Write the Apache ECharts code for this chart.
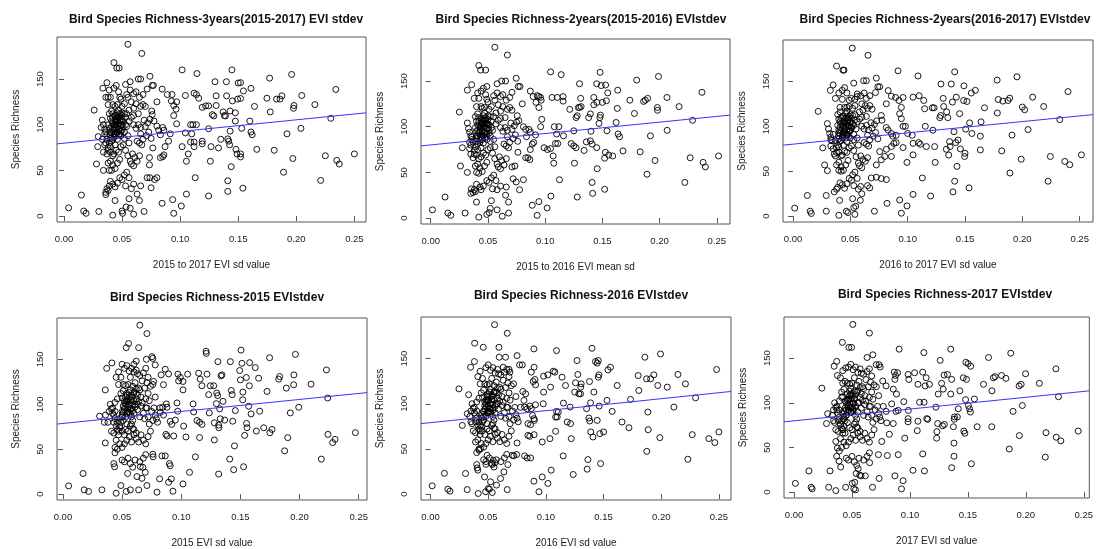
<!DOCTYPE html>
<html><head><meta charset="utf-8">
<script src="https://cdn.jsdelivr.net/npm/echarts@6/dist/echarts.min.js"></script>
<style>html,body{margin:0;padding:0;background:#fff}#c{width:1096px;height:549px}</style>
</head><body><div id="c"></div>
<script>
// ---- text ----
const titles = [
  "Bird Species Richness-3years(2015-2017) EVI stdev",
  "Bird Species Richness-2years(2015-2016) EVIstdev",
  "Bird Species Richness-2years(2016-2017) EVIstdev",
  "Bird Species Richness-2015 EVIstdev",
  "Bird Species Richness-2016 EVIstdev",
  "Bird Species Richness-2017 EVIstdev"
];
const xNames = [
  "2015 to 2017 EVI sd value",
  "2015 to 2016 EVI mean sd",
  "2016 to 2017 EVI sd value",
  "2015 EVI sd value",
  "2016 EVI sd value",
  "2017 EVI sd value"
];
const yName = "Species Richness";
const xTicks = [0, 0.05, 0.10, 0.15, 0.20, 0.25];
const yTicks = [0, 50, 100, 150];
const xRanges = [[-0.006,0.260],[-0.0085,0.2615],[-0.0087,0.2616],[-0.0050,0.2570],[-0.0083,0.2605],[-0.0087,0.2548]];
const yRange = [-6.5, 196];
// fitted regression lines (endpoints)
const fitLines = [
  [[-0.006,79],[0.260,113]],
  [[-0.0085,79],[0.2615,112.7]],
  [[-0.0087,79],[0.2616,113]],
  [[-0.0050,78],[0.2570,113]],
  [[-0.0083,78],[0.2605,113.6]],
  [[-0.0087,78.7],[0.2548,113.4]]
];

// ---- panel 1 ----
const p1Sparse = [[0.004,9],[0.015,23],[0.017,5.5],[0.019,3],[0.030,5],[0.026,116],[0.028,57],[0.029,76],[0.0295,87],[0.032,97],[0.0335,140],[0.037,146],[0.034,50],[0.036,23.5],[0.037,30],[0.038,130],[0.042,1],[0.043,168],[0.044,17],[0.0455,162],[0.0475,162],[0.050,5.5],[0.0505,3],[0.0535,10],[0.055,188],[0.056,19],[0.057,8.5],[0.060,2],[0.063,24],[0.065,17],[0.067,178],[0.069,5],[0.064,150],[0.066,150],[0.057,147],[0.053,144],
[0.074,153],[0.076,143],[0.077,143],[0.0716,139],[0.080,125],[0.0845,139],[0.089,133],[0.093,133],[0.0925,126],[0.0945,121],[0.097,125],[0.0965,117],[0.0945,110],[0.097,101],[0.076,111],[0.0755,115],[0.0775,104],[0.080,98.5],[0.0815,94],[0.085,97],[0.086,94],[0.083,89],[0.0915,90],[0.090,82],[0.087,76],[0.085,65],[0.086,67],[0.083,64],[0.0765,74.6],[0.0736,64],[0.0736,56],[0.0716,42],[0.074,42],[0.078,40],[0.080,42],[0.075,31],[0.0845,14],[0.0936,18],[0.0945,3],[0.101,11],[0.1017,160],[0.1054,24],[0.1054,60],[0.107,68],[0.1045,91],[0.1017,76],[0.1045,132],[0.109,100],[0.111,100],[0.110,90],[0.109,81],[0.112,81],[0.112,76],[0.113,42],[0.112,134.5],[0.114,133],[0.116,129],[0.1145,156],[0.114,100],[0.119,119],[0.122,120.6],[0.1245,120.6],[0.119,79],[0.119,82],[0.1245,22],[0.126,60],[0.1266,76],[0.1245,95.6],[0.1277,111],[0.129,109.6],[0.130,147],[0.131,131.6],[0.131,121],[0.133,74.6],[0.135,84],[0.137,114],[0.138,110],[0.139,109.6],[0.1398,147],[0.140,131.6],[0.141,84.5],[0.1418,82],[0.141,38.6],[0.141,27],[0.1426,78],[0.143,93],[0.143,115],[0.1446,160],[0.145,126],[0.144,54],[0.1475,113],[0.1475,104],[0.148,73],[0.149,68],[0.1495,128],[0.150,145.6],[0.152,128.7],[0.152,146],[0.152,68],[0.152,64.7],[0.153,96],[0.1545,137],[0.154,30.5],[0.161,139.7],[0.160,104],[0.161,92],[0.162,89],[0.164,120],[0.166,73],[0.1747,129],[0.177,151],[0.1776,114],[0.181,72],[0.183,128],[0.186,128],[0.1876,131.6],[0.189,48],[0.192,90],[0.196,155],[0.197,63],[0.198,121],[0.1976,118],[0.204,96],[0.2047,132],[0.216,122],[0.221,39],[0.225,66],[0.2297,107],[0.234,138.6],[0.2348,61],[0.237,57],[0.250,68]];
const p1Cluster = [[0.033,105],[0.034,100],[0.035,95],[0.036,92],[0.037,88],[0.036,80],[0.035,78],[0.034,70],[0.037,68],[0.038,72],[0.039,80],[0.040,85],[0.040,92],[0.041,98],[0.041,104],[0.042,108],[0.042,112],[0.043,90],[0.043,95],[0.044,100],[0.044,106],[0.045,110],[0.045,88],[0.046,84],[0.046,92],[0.047,102],[0.047,108],[0.048,112],[0.048,96],[0.049,105],[0.049,88],[0.050,100],[0.050,110],[0.051,104],[0.052,92],[0.052,85],[0.053,108],[0.054,98],[0.055,88],[0.056,80],[0.038,122],[0.040,130],[0.042,122],[0.044,120],[0.046,122],[0.048,130],[0.050,120],[0.052,123],[0.054,133],[0.056,116],[0.058,125],[0.060,118],[0.062,123],[0.064,112],[0.066,120],[0.068,122],[0.070,120],[0.058,108],[0.060,100],[0.062,96],[0.064,100],[0.066,90],[0.068,84],[0.070,98],[0.072,102],[0.074,106],[0.063,82],[0.065,80],[0.067,78],[0.061,64],[0.059,68],[0.057,60],[0.063,60],[0.065,66],[0.058,57],[0.060,55],[0.048,62],[0.046,58],[0.044,52],[0.042,56],[0.040,60],[0.038,58],[0.039,50],[0.041,50],[0.040,38],[0.042,35],[0.039,33],[0.044,32],[0.046,36],[0.048,42],[0.050,40],[0.052,45],[0.054,48],[0.056,42],[0.058,30],[0.053,33],[0.036,26],[0.038,28],[0.060,35],[0.066,33],[0.043,140],[0.045,143],[0.047,136],[0.049,128],[0.055,130],[0.057,138],[0.060,134],[0.062,136],[0.065,130],[0.068,133],[0.036,130],[0.039,138],[0.054,112],[0.056,104],[0.060,110],[0.045,72],[0.047,70],[0.049,76],[0.043,68],[0.038,100],[0.039,96],[0.051,78],[0.053,72],[0.055,66],[0.066,97],[0.069,105],[0.071,88],[0.073,92],[0.075,85],[0.044,96],[0.046,104],[0.048,90],[0.050,94],[0.042,84],[0.040,76],[0.037,84],[0.035,90],[0.033,84]];
const p1Core = [[0.040,88],[0.041,91],[0.042,94],[0.043,100],[0.044,103],[0.045,97],[0.046,100],[0.047,95],[0.048,105],[0.049,99],[0.050,104],[0.044,110],[0.046,113],[0.048,108],[0.050,113],[0.043,86],[0.045,92],[0.047,89],[0.049,93],[0.051,97],[0.042,102],[0.040,107],[0.039,112],[0.041,115],[0.047,116],[0.052,112],[0.053,100],[0.045,104],[0.044,90],[0.046,108],[0.038,75],[0.040,70],[0.042,66],[0.044,78],[0.041,82]];

// ---- panel 2 ----
const p2Sparse = [[0.0015,9],[0.0125,23],[0.015,5.5],[0.0175,3],[0.030,5.5],[0.025,116],[0.026,57],[0.0276,77],[0.032,140],[0.0358,146],[0.032,50],[0.035,27],[0.0355,32],[0.042,1],[0.042,167],[0.0436,162],[0.048,162],[0.040,17.5],[0.049,4],[0.051,6],[0.052,10.6],[0.056,187],[0.053,19],[0.058,9],[0.0625,2],[0.0654,25],[0.068,17.5],[0.067,178.5],[0.068,5.5],[0.062,150],[0.0654,150],[0.058,147],[0.049,144],[0.0747,153],[0.0765,144],[0.078,144],[0.071,137.6],[0.080,125],[0.087,139],[0.0895,133],[0.093,134],[0.092,126.6],[0.0945,121],[0.0965,129],[0.096,132],[0.0945,133],[0.096,100],[0.097,108],[0.0756,112],[0.077,106.5],[0.081,100],[0.083,97],[0.0858,97],[0.087,94],[0.0837,89],[0.0916,91],[0.090,82.7],[0.0887,81],[0.087,75],[0.083,66],[0.085,66],[0.0866,64],[0.0762,72],[0.0735,57],[0.071,56],[0.072,43],[0.0747,39.5],[0.081,42],[0.0776,31],[0.0887,14],[0.0945,18],[0.093,3],[0.1017,11],[0.1047,160],[0.105,24],[0.1075,60],[0.107,68],[0.106,132],[0.1047,76],[0.102,75],[0.099,77],[0.1105,132],[0.108,100],[0.112,100],[0.110,92],[0.109,81.6],[0.111,81.6],[0.1125,42],[0.114,157],[0.1157,128],[0.1157,133],[0.116,90],[0.1215,119],[0.1227,81.6],[0.125,79],[0.127,77],[0.128,23],[0.1256,60],[0.125,95.5],[0.129,121],[0.130,121],[0.130,147],[0.131,131],[0.1314,122],[0.127,110],[0.128,112],[0.134,74],[0.136,83.4],[0.1395,114],[0.138,110],[0.1395,84.5],[0.141,81],[0.141,39],[0.1415,27],[0.140,95],[0.1425,132],[0.1425,124],[0.145,77],[0.1455,54],[0.145,147],[0.1452,126.6],[0.148,159.5],[0.147,103.5],[0.1478,110],[0.1483,112.7],[0.149,145],[0.150,126.6],[0.152,65.5],[0.1526,72],[0.152,31.5],[0.1528,145.6],[0.1535,128.4],[0.154,95.5],[0.1547,137],[0.1555,69],[0.159,68],[0.162,104.6],[0.163,120],[0.1634,140],[0.1637,92],[0.165,89],[0.168,73.5],[0.174,129],[0.178,114.5],[0.180,151],[0.183,72.5],[0.186,127.7],[0.1875,129],[0.1895,131],[0.192,90],[0.189,48],[0.196,63],[0.198,121],[0.1982,118],[0.199,155],[0.2064,132],[0.2066,96],[0.217,122],[0.222,39],[0.2267,66],[0.2288,107],[0.237,137.6],[0.238,61],[0.240,56],[0.2515,68]];
const p2Cluster = [[0.032,104],[0.033,98],[0.034,94],[0.035,90],[0.036,86],[0.035,80],[0.034,76],[0.035,70],[0.037,66],[0.038,70],[0.039,78],[0.040,84],[0.040,90],[0.041,96],[0.041,102],[0.042,106],[0.042,110],[0.043,88],[0.043,93],[0.044,99],[0.044,104],[0.045,108],[0.045,86],[0.046,82],[0.046,90],[0.047,100],[0.047,106],[0.048,110],[0.048,94],[0.049,103],[0.049,86],[0.050,98],[0.050,108],[0.051,102],[0.052,90],[0.052,84],[0.053,106],[0.054,96],[0.055,86],[0.056,78],[0.040,122],[0.042,131],[0.044,122],[0.045,120],[0.047,121],[0.049,130],[0.051,119],[0.053,122],[0.055,134],[0.057,115],[0.059,124],[0.061,117],[0.063,122],[0.065,110],[0.067,119],[0.069,121],[0.071,118],[0.059,107],[0.061,99],[0.063,95],[0.065,99],[0.067,89],[0.069,83],[0.071,97],[0.073,101],[0.075,105],[0.064,81],[0.066,79],[0.068,77],[0.062,63],[0.060,67],[0.058,59],[0.064,58],[0.066,65],[0.059,56],[0.061,54],[0.049,61],[0.047,57],[0.045,51],[0.043,55],[0.041,59],[0.039,57],[0.040,50],[0.042,49],[0.040,37],[0.043,34],[0.038,31],[0.044,31],[0.046,35],[0.049,41],[0.051,39],[0.053,44],[0.055,47],[0.057,41],[0.058,31],[0.054,32],[0.037,28],[0.039,29],[0.061,35],[0.066,34],[0.044,139],[0.046,142],[0.048,135],[0.050,127],[0.056,129],[0.058,137],[0.061,133],[0.063,135],[0.066,129],[0.069,132],[0.038,131],[0.041,137],[0.055,111],[0.057,103],[0.061,109],[0.046,71],[0.048,69],[0.050,75],[0.044,67],[0.039,99],[0.040,95],[0.052,77],[0.054,71],[0.056,65],[0.067,96],[0.070,104],[0.072,87],[0.074,91],[0.076,84],[0.045,95],[0.047,103],[0.049,89],[0.051,93],[0.043,83],[0.041,75],[0.037,83],[0.036,89],[0.034,83]];
const p2Core = [[0.040,87],[0.041,90],[0.042,93],[0.043,99],[0.044,102],[0.045,96],[0.046,99],[0.047,94],[0.048,104],[0.049,98],[0.050,103],[0.044,109],[0.046,112],[0.048,107],[0.050,112],[0.043,85],[0.045,91],[0.047,88],[0.049,92],[0.051,96],[0.042,101],[0.040,106],[0.039,111],[0.041,114],[0.047,115],[0.052,111],[0.053,99],[0.045,103],[0.044,89],[0.046,107],[0.038,74],[0.040,69],[0.042,65],[0.044,77],[0.041,81]];

// ---- panel 3 ----
const p3Sparse = [[0.0015,9],[0.0125,23],[0.015,5.5],[0.016,3],[0.029,5.5],[0.022,116.6],[0.0276,57],[0.029,23],[0.026,76],[0.030,50.6],[0.0326,140],[0.035,146],[0.040,1],[0.038,167],[0.0407,17.6],[0.0436,162.5],[0.0445,162.5],[0.0465,5.5],[0.048,4],[0.0517,187],[0.052,19.4],[0.053,9.5],[0.0547,11],[0.054,2],[0.0587,17.6],[0.060,25],[0.0616,150.7],[0.064,150.7],[0.0654,179],[0.071,5.5],[0.053,148],[0.0727,153.6],[0.074,144],[0.0756,144],[0.072,137.5],[0.0814,125],[0.083,139.7],[0.0858,133.5],[0.0895,132],[0.0916,161.7],[0.0924,128.7],[0.0945,121],[0.096,132],[0.093,114],[0.0945,108.5],[0.096,100],[0.098,100],[0.077,112],[0.0776,106.7],[0.0814,98.6],[0.083,95.7],[0.0858,92],[0.087,89],[0.090,90],[0.090,81.8],[0.088,81],[0.0858,77.4],[0.0814,74.4],[0.080,66.4],[0.0858,66.4],[0.0756,71.9],[0.077,62.7],[0.0727,57],[0.0683,42.5],[0.0727,43.3],[0.077,41.8],[0.0814,40.7],[0.0669,31.5],[0.082,14.3],[0.093,18],[0.0945,3.3],[0.0994,11.4],[0.1047,24.2],[0.0994,59.8],[0.1047,68.2],[0.1047,132.4],[0.100,92],[0.104,90],[0.1047,81],[0.096,76.3],[0.109,156],[0.110,134],[0.1096,81.8],[0.111,80],[0.1128,42.5],[0.114,128.7],[0.1148,119.5],[0.1154,100],[0.1163,77.4],[0.120,22.4],[0.1215,120.6],[0.123,120.6],[0.122,95.7],[0.1235,77.4],[0.124,59.8],[0.128,109.6],[0.1288,112],[0.129,147],[0.131,131],[0.1314,122],[0.1337,74.4],[0.134,116],[0.135,109.6],[0.1358,68],[0.1366,82.9],[0.137,77.4],[0.138,147],[0.139,126.9],[0.1395,27],[0.1404,94],[0.141,160.6],[0.141,38.9],[0.1419,81.8],[0.1424,132.4],[0.143,55.4],[0.1439,84.7],[0.1453,114],[0.146,74.8],[0.1488,128.7],[0.149,145],[0.1497,66.4],[0.150,70],[0.1506,96.8],[0.1517,127.6],[0.1535,31.5],[0.154,103.8],[0.1555,137],[0.156,92],[0.159,140],[0.1634,89],[0.1634,73.7],[0.164,104.9],[0.167,120.6],[0.178,151.4],[0.179,129.8],[0.1782,114.8],[0.182,72.6],[0.183,128],[0.1875,128.7],[0.189,131.3],[0.1892,48],[0.191,90.2],[0.1953,155],[0.199,63.4],[0.200,121.4],[0.202,118.4],[0.205,96.4],[0.209,132.4],[0.2186,122],[0.2224,38.9],[0.2244,66.4],[0.2326,107.4],[0.2398,138.6],[0.237,60.9],[0.2413,57.2],[0.2515,68.2]];
const p3Cluster = [[0.030,103],[0.031,97],[0.032,92],[0.033,88],[0.034,84],[0.033,78],[0.035,75],[0.036,69],[0.037,67],[0.038,71],[0.039,79],[0.040,86],[0.040,93],[0.041,99],[0.041,105],[0.042,109],[0.043,111],[0.043,89],[0.044,94],[0.044,100],[0.045,105],[0.046,109],[0.046,87],[0.047,83],[0.047,91],[0.048,101],[0.048,107],[0.049,111],[0.049,95],[0.050,104],[0.050,87],[0.051,99],[0.051,109],[0.052,103],[0.053,91],[0.053,85],[0.054,107],[0.055,97],[0.056,87],[0.057,79],[0.041,121],[0.043,130],[0.045,121],[0.047,121],[0.049,122],[0.051,131],[0.052,120],[0.054,123],[0.056,133],[0.058,116],[0.060,125],[0.061,118],[0.063,123],[0.064,111],[0.065,120],[0.067,123],[0.069,119],[0.058,108],[0.060,100],[0.062,97],[0.064,101],[0.065,90],[0.067,85],[0.069,98],[0.071,102],[0.073,106],[0.062,82],[0.064,80],[0.066,78],[0.061,63],[0.059,67],[0.057,59],[0.063,61],[0.065,65],[0.058,56],[0.060,54],[0.048,62],[0.046,57],[0.044,51],[0.042,55],[0.040,60],[0.038,57],[0.040,51],[0.042,50],[0.041,37],[0.043,35],[0.039,32],[0.045,31],[0.047,36],[0.049,42],[0.051,40],[0.052,46],[0.054,49],[0.056,42],[0.057,30],[0.053,34],[0.036,27],[0.038,30],[0.059,33],[0.065,34],[0.043,140],[0.045,143],[0.047,137],[0.049,129],[0.054,130],[0.056,136],[0.059,134],[0.062,137],[0.064,131],[0.067,134],[0.037,131],[0.040,137],[0.054,113],[0.056,105],[0.060,110],[0.045,72],[0.047,71],[0.049,76],[0.043,68],[0.039,101],[0.040,96],[0.051,78],[0.053,73],[0.055,66],[0.066,96],[0.068,104],[0.070,89],[0.072,93],[0.074,86],[0.045,97],[0.047,104],[0.048,91],[0.050,95],[0.042,84],[0.040,77],[0.037,84],[0.035,91],[0.033,85]];
const p3Core = [[0.040,89],[0.041,92],[0.042,95],[0.043,101],[0.044,104],[0.045,98],[0.046,101],[0.047,96],[0.048,106],[0.049,100],[0.050,105],[0.044,111],[0.046,114],[0.048,109],[0.050,113],[0.043,87],[0.045,93],[0.047,90],[0.049,94],[0.051,98],[0.042,103],[0.040,108],[0.039,113],[0.041,116],[0.047,117],[0.052,112],[0.053,101],[0.045,105],[0.044,91],[0.046,109],[0.038,76],[0.040,71],[0.042,67],[0.044,79],[0.041,83]];

// ---- panel 4 ----
const p4Sparse = [[0.0048,9.2],[0.017,23],[0.018,4.8],[0.0217,3],[0.033,4.8],[0.031,86.8],[0.0358,116],[0.0358,57],[0.037,140],[0.0414,146],[0.0437,30.5],[0.043,34],[0.045,1],[0.044,52],[0.049,9.6],[0.050,144.5],[0.0535,163],[0.0555,167.6],[0.0535,3],[0.057,4.8],[0.0547,23],[0.060,144.5],[0.062,148],[0.064,163],[0.065,188],[0.064,4.8],[0.0626,19.5],[0.0668,17.6],[0.0654,30.5],[0.0676,29.8],[0.0696,24.3],[0.0705,150],[0.071,178.7],[0.071,9.6],[0.0753,153],[0.076,151],[0.078,143.8],[0.0767,125.4],[0.0795,2.2],[0.0817,17],[0.0837,42.6],[0.0865,42.6],[0.076,44.5],[0.0762,41.5],[0.083,132.7],[0.0865,139],[0.085,121.7],[0.0874,100.4],[0.088,96.7],[0.0843,96.7],[0.0823,91],[0.085,88],[0.087,66.5],[0.088,64.7],[0.0893,133.8],[0.0907,81],[0.092,77.6],[0.0936,64.7],[0.090,34],[0.0907,31.6],[0.0916,17],[0.093,3.3],[0.0893,13.2],[0.095,82.4],[0.0964,101.5],[0.097,92.3],[0.0972,133.5],[0.0978,126],[0.0992,129.8],[0.1015,125.4],[0.1015,116],[0.102,75.7],[0.1015,11.4],[0.104,63.6],[0.1054,133.5],[0.107,24.3],[0.110,100.4],[0.1105,91.5],[0.112,41.5],[0.1133,82],[0.1147,134.6],[0.1155,80],[0.116,128],[0.1155,63],[0.1175,77.6],[0.1175,120.6],[0.121,159],[0.1212,156.6],[0.1218,133.5],[0.1232,110.7],[0.1246,120.6],[0.1237,90.4],[0.1274,120.6],[0.128,79.4],[0.128,60.3],[0.1297,100.7],[0.130,112.5],[0.1308,109.6],[0.131,147.4],[0.1316,76.8],[0.1318,73.9],[0.1316,22.4],[0.1325,94.9],[0.133,83.8],[0.1336,131.6],[0.1344,132.7],[0.1353,103.3],[0.1367,82.4],[0.141,39],[0.1415,147.4],[0.1423,115.4],[0.143,110.7],[0.1435,81.2],[0.1443,27.2],[0.145,53.7],[0.1457,93],[0.1494,137.5],[0.150,127.2],[0.1505,160.3],[0.1513,145.6],[0.1519,105],[0.1521,113.6],[0.1527,30.5],[0.1536,65.4],[0.155,129.8],[0.1552,78.7],[0.1556,73.9],[0.157,97.8],[0.1576,120.6],[0.1578,146.3],[0.159,89.3],[0.1626,140.8],[0.1635,70.2],[0.1654,129],[0.1663,92.3],[0.1697,73.9],[0.1725,114.3],[0.1747,151.8],[0.1749,68.4],[0.1767,72],[0.1824,128],[0.1832,130.9],[0.1874,48.2],[0.1888,118],[0.190,62.9],[0.1922,90.4],[0.195,121.7],[0.1952,132.7],[0.1965,155.5],[0.1993,96.7],[0.2097,122.4],[0.2184,39],[0.2227,138.2],[0.2238,107],[0.2240,66.5],[0.228,57.4],[0.230,61],[0.2472,68.4]];
const p4Cluster = [[0.040,100],[0.041,95],[0.042,90],[0.043,88],[0.044,84],[0.043,80],[0.045,76],[0.046,72],[0.047,70],[0.048,74],[0.049,80],[0.050,86],[0.050,92],[0.051,98],[0.052,104],[0.053,108],[0.054,112],[0.054,90],[0.055,95],[0.056,100],[0.057,105],[0.058,110],[0.058,86],[0.059,82],[0.060,90],[0.061,100],[0.062,106],[0.063,110],[0.063,94],[0.064,103],[0.065,86],[0.066,98],[0.066,108],[0.067,102],[0.068,90],[0.069,84],[0.070,106],[0.071,96],[0.072,86],[0.073,78],[0.047,122],[0.049,130],[0.051,122],[0.053,121],[0.055,122],[0.057,130],[0.059,120],[0.061,124],[0.063,134],[0.065,116],[0.067,126],[0.069,118],[0.071,124],[0.072,112],[0.074,120],[0.076,122],[0.078,108],[0.060,66],[0.062,62],[0.064,58],[0.066,66],[0.068,60],[0.070,56],[0.072,64],[0.074,70],[0.076,82],[0.078,88],[0.080,80],[0.082,96],[0.058,58],[0.056,64],[0.054,60],[0.052,56],[0.050,52],[0.048,56],[0.046,50],[0.044,46],[0.050,38],[0.052,36],[0.055,40],[0.057,34],[0.059,30],[0.061,38],[0.065,36],[0.068,40],[0.070,44],[0.047,66],[0.045,60],[0.043,68],[0.041,70],[0.052,140],[0.054,143],[0.056,137],[0.058,140],[0.060,136],[0.062,138],[0.065,132],[0.068,135],[0.070,140],[0.072,130],[0.045,130],[0.047,136],[0.060,113],[0.062,117],[0.064,118],[0.053,72],[0.055,70],[0.057,76],[0.059,73],[0.044,102],[0.046,106],[0.058,78],[0.060,72],[0.062,68],[0.070,96],[0.073,104],[0.075,92],[0.077,96],[0.079,84],[0.052,96],[0.054,104],[0.056,91],[0.058,95],[0.048,84],[0.046,80],[0.044,92],[0.042,96],[0.039,92],[0.036,88],[0.035,80],[0.038,80]];
const p4Core = [[0.050,88],[0.051,91],[0.052,94],[0.053,100],[0.054,103],[0.055,97],[0.056,100],[0.057,95],[0.058,105],[0.059,99],[0.060,104],[0.054,110],[0.056,113],[0.058,108],[0.060,113],[0.053,86],[0.055,92],[0.057,89],[0.059,93],[0.061,97],[0.052,102],[0.050,107],[0.049,112],[0.051,115],[0.057,116],[0.062,112],[0.063,100],[0.055,104],[0.054,90],[0.056,108],[0.048,76],[0.050,70],[0.052,66],[0.054,78],[0.051,82]];

// ---- panel 5 ----
const p5Sparse = [[0.0014,9.2],[0.012,23],[0.015,5.5],[0.0168,3.3],[0.0318,5],[0.0246,116.5],[0.0275,76],[0.0303,22.8],[0.0318,89],[0.033,110],[0.0347,140.4],[0.038,146.7],[0.0382,167],[0.039,57.7],[0.040,32.7],[0.0405,29],[0.041,26.5],[0.0413,0.7],[0.042,48.5],[0.0434,50.4],[0.0457,162.5],[0.0468,19],[0.0477,2.6],[0.048,33],[0.049,43],[0.050,6.2],[0.051,5.5],[0.052,13.6],[0.0555,187.5],[0.0535,32.7],[0.0543,37.5],[0.0558,34.6],[0.0572,10],[0.0535,1.8],[0.0593,162.5],[0.0595,151.5],[0.0607,17.3],[0.0636,24.6],[0.065,151.5],[0.0665,178],[0.0665,5],[0.063,140.4],[0.067,32.7],[0.0708,43],[0.0722,42.3],[0.0746,43.8],[0.068,138],[0.0688,135],[0.075,153.3],[0.0772,143],[0.0795,143],[0.075,56.6],[0.0815,42.3],[0.0838,40],[0.080,113.6],[0.0824,111],[0.081,103.7],[0.0815,96.3],[0.0838,94.5],[0.086,97.4],[0.0873,94.5],[0.0884,87],[0.0844,65],[0.086,64],[0.0844,78],[0.0867,76.8],[0.0896,83.5],[0.090,81.6],[0.0898,65.8],[0.0873,135],[0.089,124.6],[0.0905,126.8],[0.091,121],[0.0896,160.7],[0.0898,140.4],[0.0867,40],[0.0896,14.3],[0.091,98.9],[0.094,2.6],[0.0968,19],[0.0968,57.7],[0.0977,100],[0.098,112.9],[0.098,130.5],[0.1017,132],[0.1017,11.8],[0.1035,61.4],[0.1046,26.5],[0.1064,136],[0.1078,135],[0.1084,85.3],[0.1098,85.3],[0.1084,69.5],[0.1092,91.5],[0.1107,90.8],[0.104,118.4],[0.1092,158.8],[0.114,129.4],[0.115,42.3],[0.1152,100.7],[0.117,120.2],[0.1185,79.8],[0.121,96.3],[0.1214,78],[0.122,61.4],[0.1237,21.7],[0.125,112.9],[0.1257,123.2],[0.127,147.8],[0.1277,132.4],[0.1286,111],[0.130,111],[0.1306,122],[0.1302,118.4],[0.1353,94.5],[0.1358,27.6],[0.1364,38.2],[0.1373,84.2],[0.1378,124.6],[0.138,80.9],[0.1387,101],[0.1389,68.8],[0.140,161.4],[0.1408,63.2],[0.1416,112.9],[0.143,146.7],[0.1445,145],[0.1454,147.8],[0.1454,129.4],[0.146,132],[0.1445,81.6],[0.1462,97.4],[0.1468,66.9],[0.1474,33.8],[0.150,68.8],[0.153,103.7],[0.1538,137.5],[0.156,140.4],[0.1575,91.5],[0.1618,120.2],[0.166,79.8],[0.172,73.5],[0.1734,104.8],[0.180,131.2],[0.1806,114.7],[0.1858,151.5],[0.1873,127.6],[0.1884,90.8],[0.1887,71.3],[0.1875,47.4],[0.1908,127.6],[0.1936,132],[0.197,120.2],[0.1988,62.5],[0.1994,155.1],[0.2052,118.4],[0.211,96.3],[0.2145,132.4],[0.221,122],[0.2231,38.6],[0.2269,65.8],[0.2298,106.6],[0.2413,61.4],[0.2465,57],[0.248,137.9],[0.250,68.8]];
const p5Cluster = [[0.036,100],[0.037,95],[0.038,90],[0.039,88],[0.040,84],[0.039,80],[0.041,76],[0.042,72],[0.043,70],[0.044,74],[0.045,80],[0.046,86],[0.046,92],[0.047,98],[0.048,104],[0.049,108],[0.050,111],[0.050,90],[0.051,95],[0.052,100],[0.053,105],[0.054,109],[0.054,86],[0.055,82],[0.056,90],[0.057,100],[0.058,106],[0.059,110],[0.059,94],[0.060,103],[0.061,86],[0.062,98],[0.062,108],[0.063,102],[0.064,90],[0.065,84],[0.066,106],[0.067,96],[0.068,86],[0.069,78],[0.043,122],[0.045,128],[0.047,122],[0.049,121],[0.051,122],[0.053,128],[0.055,120],[0.057,124],[0.059,133],[0.061,116],[0.063,126],[0.065,118],[0.067,123],[0.068,112],[0.070,120],[0.072,122],[0.074,108],[0.056,66],[0.058,62],[0.060,58],[0.062,66],[0.064,60],[0.066,56],[0.068,64],[0.070,70],[0.072,82],[0.074,88],[0.076,80],[0.078,96],[0.054,58],[0.052,64],[0.050,60],[0.048,56],[0.046,52],[0.044,56],[0.042,50],[0.040,46],[0.046,38],[0.048,36],[0.051,40],[0.053,34],[0.055,30],[0.057,38],[0.061,36],[0.064,40],[0.066,44],[0.043,66],[0.041,60],[0.039,68],[0.037,70],[0.048,140],[0.050,143],[0.052,137],[0.054,140],[0.056,134],[0.058,138],[0.061,132],[0.064,135],[0.066,138],[0.068,130],[0.041,130],[0.043,136],[0.056,113],[0.058,117],[0.060,118],[0.049,72],[0.051,70],[0.053,76],[0.055,73],[0.040,102],[0.042,106],[0.054,78],[0.056,72],[0.058,68],[0.066,96],[0.069,104],[0.071,92],[0.073,96],[0.075,84],[0.048,96],[0.050,104],[0.052,91],[0.054,95],[0.044,84],[0.042,80],[0.040,92],[0.038,96],[0.035,92],[0.034,86],[0.035,80],[0.036,78]];
const p5Core = [[0.045,88],[0.046,91],[0.047,94],[0.048,100],[0.049,103],[0.050,97],[0.051,100],[0.052,95],[0.053,105],[0.054,99],[0.055,104],[0.049,110],[0.051,113],[0.053,108],[0.055,113],[0.048,86],[0.050,92],[0.052,89],[0.054,93],[0.056,97],[0.047,102],[0.045,107],[0.044,112],[0.046,115],[0.052,116],[0.057,112],[0.058,100],[0.050,104],[0.049,90],[0.051,108],[0.043,76],[0.045,70],[0.047,66],[0.049,78],[0.046,82]];

// ---- panel 6 ----
const p6Sparse = [[0.0011,9.9],[0.0128,23.8],[0.0147,5.5],[0.0156,3.7],[0.0298,5.5],[0.036,1.8],[0.024,116.4],[0.028,76.8],[0.031,23.8],[0.029,87.8],[0.0346,140.9],[0.0368,146.4],[0.0374,130.6],[0.036,56.7],[0.0374,49.4],[0.0368,40.2],[0.0388,34.8],[0.0402,28.2],[0.0417,167.6],[0.0445,5.5],[0.0445,139],[0.0473,162],[0.0496,162],[0.0502,9.9],[0.0516,3.7],[0.0507,187.7],[0.0524,11],[0.053,2.6],[0.0536,20.9],[0.0553,26.3],[0.0567,19],[0.0578,18.3],[0.0615,18.3],[0.063,150.7],[0.065,178],[0.0652,33],[0.0677,5.5],[0.068,153.7],[0.0709,142.7],[0.0734,142.7],[0.0743,140],[0.0728,42],[0.0734,15.4],[0.0765,124.4],[0.0794,118.9],[0.0757,56.7],[0.0805,41],[0.0794,90.4],[0.080,77.6],[0.0822,64.8],[0.0842,98.8],[0.0856,115.3],[0.0865,134.3],[0.087,126.2],[0.0876,130.6],[0.0884,109.8],[0.0893,133.6],[0.0856,76.8],[0.087,18.3],[0.0879,90.4],[0.0899,91.5],[0.0899,42],[0.0907,160],[0.0927,3.7],[0.0941,12.8],[0.0947,101.3],[0.0955,60.4],[0.0984,78.7],[0.0984,131.7],[0.0986,91.5],[0.0984,82.3],[0.099,126.2],[0.1026,24.5],[0.104,133.6],[0.1063,68.8],[0.1069,79.4],[0.1069,120.7],[0.1083,100.6],[0.111,42.8],[0.111,134.3],[0.112,156.2],[0.1122,100.6],[0.1125,23.8],[0.1131,118.9],[0.114,128],[0.1145,82.3],[0.1154,81.6],[0.1168,120.7],[0.1224,95.1],[0.123,60.4],[0.1233,67.7],[0.1239,76.8],[0.1244,109.8],[0.1261,147.5],[0.1273,121.8],[0.1281,74.3],[0.1287,115.3],[0.1295,131],[0.1297,75.7],[0.1324,131.7],[0.1352,109.8],[0.1352,160],[0.136,126.2],[0.136,27.4],[0.1375,73.2],[0.138,40.2],[0.138,54.9],[0.1382,81.6],[0.1384,84.2],[0.1409,84.2],[0.1417,93.3],[0.1431,113.4],[0.146,128],[0.1465,68.4],[0.1474,65.9],[0.148,103.5],[0.1482,145.3],[0.1488,126.2],[0.1502,143.8],[0.1504,97],[0.1514,93.3],[0.1522,89.6],[0.1524,140.9],[0.153,31.8],[0.1556,104.3],[0.158,73.2],[0.1635,120.7],[0.1678,150.7],[0.1706,73.2],[0.1708,113.4],[0.172,128],[0.1735,129.2],[0.179,130.6],[0.1828,127.3],[0.1857,48.3],[0.187,155.5],[0.189,90.4],[0.1942,118.9],[0.196,120.7],[0.1944,63.3],[0.197,97],[0.1998,132.5],[0.2117,121.8],[0.2168,39.2],[0.2174,66.6],[0.226,138],[0.2262,61.5],[0.2282,106.8],[0.2302,57.4],[0.2452,68.4]];
const p6Cluster = [[0.035,100],[0.036,95],[0.037,92],[0.038,88],[0.039,84],[0.038,80],[0.040,76],[0.041,72],[0.042,70],[0.043,74],[0.044,80],[0.045,86],[0.045,92],[0.046,98],[0.047,104],[0.048,108],[0.049,110],[0.049,90],[0.050,95],[0.051,100],[0.052,105],[0.053,109],[0.053,86],[0.054,82],[0.055,90],[0.056,100],[0.057,106],[0.058,110],[0.058,94],[0.059,103],[0.060,86],[0.061,98],[0.061,108],[0.062,102],[0.063,90],[0.064,84],[0.065,106],[0.066,96],[0.067,86],[0.068,78],[0.042,122],[0.044,124],[0.046,122],[0.048,121],[0.050,122],[0.052,128],[0.054,120],[0.056,124],[0.058,133],[0.060,116],[0.062,126],[0.064,118],[0.066,123],[0.067,112],[0.069,120],[0.071,118],[0.073,108],[0.055,66],[0.057,62],[0.059,58],[0.061,66],[0.063,60],[0.065,56],[0.067,64],[0.069,70],[0.071,82],[0.073,88],[0.075,80],[0.077,96],[0.053,58],[0.051,64],[0.049,60],[0.047,56],[0.045,52],[0.043,56],[0.041,50],[0.039,46],[0.045,38],[0.047,36],[0.050,40],[0.052,34],[0.054,30],[0.056,38],[0.060,36],[0.063,40],[0.065,44],[0.042,66],[0.040,60],[0.038,68],[0.036,70],[0.047,140],[0.049,143],[0.051,137],[0.053,140],[0.055,134],[0.057,138],[0.060,132],[0.063,135],[0.065,138],[0.067,130],[0.040,128],[0.042,136],[0.055,113],[0.057,117],[0.059,118],[0.048,72],[0.050,70],[0.052,76],[0.054,73],[0.039,102],[0.041,106],[0.053,78],[0.055,72],[0.057,68],[0.065,96],[0.068,104],[0.070,92],[0.072,96],[0.074,84],[0.047,96],[0.049,104],[0.051,91],[0.053,95],[0.043,84],[0.041,80],[0.039,92],[0.037,96],[0.034,92],[0.033,86],[0.034,80],[0.035,78]];
const p6Core = [[0.042,88],[0.043,91],[0.044,94],[0.045,100],[0.046,103],[0.047,97],[0.048,100],[0.049,95],[0.050,105],[0.051,99],[0.052,104],[0.046,110],[0.048,113],[0.050,108],[0.052,113],[0.045,86],[0.047,92],[0.049,89],[0.051,93],[0.053,97],[0.044,102],[0.042,107],[0.041,112],[0.043,115],[0.049,116],[0.054,112],[0.055,100],[0.047,104],[0.046,90],[0.048,108],[0.040,76],[0.042,70],[0.044,66],[0.046,78],[0.043,82]];

const panelPoints = [
  p1Sparse.concat(p1Cluster, p1Core), p2Sparse.concat(p2Cluster, p2Core), p3Sparse.concat(p3Cluster, p3Core),
  p4Sparse.concat(p4Cluster, p4Core), p5Sparse.concat(p5Cluster, p5Core), p6Sparse.concat(p6Cluster, p6Core)
];

// ---- layout (pixels) ----
const gridBoxes = [[57,37,309,185],[421,39,309,185],[783,40,310,182],[57,318,310,184],[421,317,310,184],[784,317,310,181]];
const titlePos = [[211,9],[576,9],[940,9],[212,287],[576,285],[940,284]];

const FONT = '"Liberation Sans", Arial, Helvetica, sans-serif';
const TXT = '#1a1a1a';
const AX = '#555';

const option = {
  animation: false,
  backgroundColor: '#fff',
  title: titles.map((t,i)=>({
    text: t, left: titlePos[i][0], top: titlePos[i][1], textAlign: 'center',
    textStyle: {fontFamily: FONT, fontSize: 12, fontWeight: 'bold', color: '#111'}
  })),
  grid: gridBoxes.map(b=>({left:b[0], top:b[1], width:b[2], height:b[3], show:true, borderColor:AX, borderWidth:1, backgroundColor:'transparent', containLabel:false})),
  xAxis: xNames.map((n,i)=>({
    type:'value', gridIndex:i, min:xRanges[i][0], max:xRanges[i][1],
    name:n, nameLocation:'middle', nameGap:38,
    nameTextStyle:{fontFamily:FONT, fontSize:10, color:TXT},
    axisLine:{show:false}, splitLine:{show:false},
    axisTick:{show:true, inside:false, length:5, lineStyle:{color:AX}, customValues:xTicks},
    axisLabel:{fontFamily:FONT, fontSize:9.5, color:TXT, margin:12, customValues:xTicks, formatter:v=>v.toFixed(2)}
  })),
  yAxis: xNames.map((n,i)=>({
    type:'value', gridIndex:i, min:yRange[0], max:yRange[1],
    name:yName, nameLocation:'middle', nameGap:36, nameRotate:90,
    nameTextStyle:{fontFamily:FONT, fontSize:10, color:TXT},
    axisLine:{show:false}, splitLine:{show:false},
    axisTick:{show:true, inside:false, length:5, lineStyle:{color:AX}, customValues:yTicks},
    axisLabel:{fontFamily:FONT, fontSize:9.5, color:TXT, margin:12, rotate:90, customValues:yTicks, formatter:v=>String(v)}
  })),
  series: []
};
panelPoints.forEach((pts,i)=>{
  option.series.push({
    type:'scatter', xAxisIndex:i, yAxisIndex:i, data:pts, symbol:'circle', symbolSize:6,
    itemStyle:{color:'rgba(0,0,0,0)', borderColor:'#000', borderWidth:0.9, opacity:1},
    silent:true, clip:true
  });
  option.series.push({
    type:'line', xAxisIndex:i, yAxisIndex:i, data:fitLines[i], symbol:'none', clip:true,
    lineStyle:{color:'#3535ff', width:1}, silent:true, z:3
  });
});
const chart = echarts.init(document.getElementById('c'), null, {renderer:'canvas'});
chart.setOption(option);
</script>
</body></html>
